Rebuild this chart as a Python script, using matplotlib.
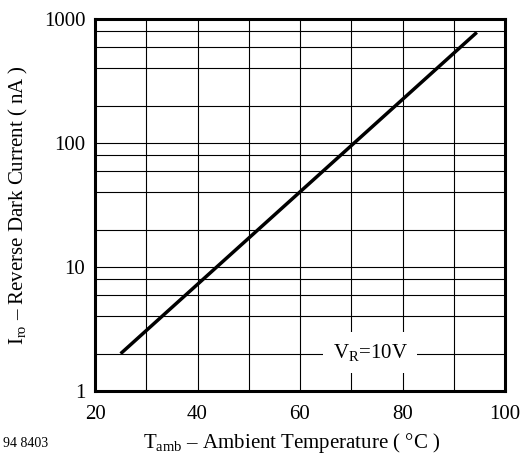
import matplotlib
matplotlib.use("Agg")
import matplotlib.pyplot as plt
from matplotlib.ticker import FixedLocator, NullFormatter

plt.rcParams['font.family'] = ['Liberation Serif', 'DejaVu Serif']
plt.rcParams['mathtext.fontset'] = 'custom'
plt.rcParams['mathtext.rm'] = 'Liberation Serif'
plt.rcParams['mathtext.it'] = 'Liberation Serif'

# data
temperature = [25, 94.5]          # degC
dark_current = [2, 780]           # nA
x_ticks = [20, 40, 60, 80, 100]
y_ticks = [1, 10, 100, 1000]
y_tick_labels = ['1', '10', '100', '1000']
annotation = r'$\mathregular{V_R}$=10V'

W, H = 520, 461
fig = plt.figure(figsize=(W / 100, H / 100), dpi=100)
ax = fig.add_axes([95 / W, 1 - 391 / H, 410 / W, 372 / H])

ax.plot(temperature, dark_current, color='black', lw=2.5, solid_capstyle='butt', zorder=3)

ax.set_yscale('log')
ax.set_xlim(20, 100)
ax.set_ylim(1, 1000)

ax.xaxis.set_major_locator(FixedLocator(x_ticks))
ax.xaxis.set_minor_locator(FixedLocator([30, 50, 70, 90]))
ax.xaxis.set_minor_formatter(NullFormatter())
ax.set_xticklabels([str(t) for t in x_ticks])

minors = [m * d for d in [1, 10, 100] for m in [2, 4, 6, 8]]
ax.yaxis.set_major_locator(FixedLocator(y_ticks))
ax.yaxis.set_minor_locator(FixedLocator(minors))
ax.yaxis.set_minor_formatter(NullFormatter())
ax.set_yticklabels(y_tick_labels)

ax.grid(True, which='both', color='black', lw=0.8)
ax.tick_params(which='both', length=0, labelsize=15)
ax.tick_params(axis='x', pad=10)
ax.tick_params(axis='y', pad=7)
for s in ax.spines.values():
    s.set_linewidth(2.2)

ax.text(73.7, 2.05, annotation, fontsize=15, ha='center', va='center',
        bbox=dict(facecolor='white', edgecolor='none', pad=7), zorder=4)

fig.text(18 / W, 1 - 205 / H, r'$\mathregular{I_{ro}}$ – Reverse Dark Current ( nA )',
         rotation=90, fontsize=15, ha='center', va='center')
fig.text(292 / W, 1 - 443 / H, r'$\mathregular{T_{amb}}$ – Ambient Temperature ( °C )',
         fontsize=15, ha='center', va='center')
fig.text(3 / W, 1 - 443 / H, '94 8403', fontsize=10, ha='left', va='center')

fig.savefig('out.png', dpi=100, facecolor='white')
